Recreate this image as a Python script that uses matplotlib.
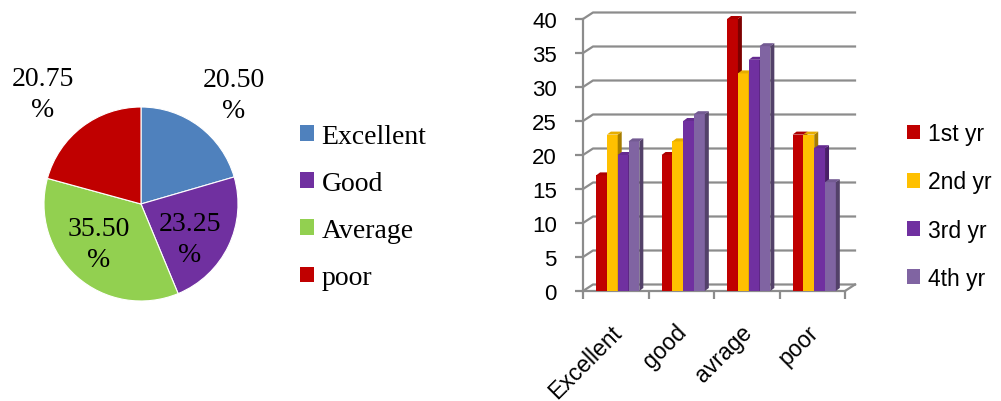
import matplotlib
matplotlib.use("Agg")
import matplotlib.pyplot as plt
import numpy as np
from matplotlib.patches import Patch
from matplotlib.colors import to_rgb
from matplotlib.transforms import ScaledTranslation

# ==== data ====
pie_labels = ['Excellent', 'Good', 'Average', 'poor']
pie_values = [20.50, 23.25, 35.50, 20.75]
pie_colors = ['#4F81BD', '#7030A0', '#92D050', '#C00000']

categories = ['Excellent', 'good', 'avrage', 'poor']
series_names = ['1st yr', '2nd yr', '3rd yr', '4th yr']
yr1 = [17, 20, 40, 23]
yr2 = [23, 22, 32, 23]
yr3 = [20, 25, 34, 21]
yr4 = [22, 26, 36, 16]
bar_colors = ['#C00000', '#FFC000', '#7030A0', '#8064A2']
yticks = [0, 5, 10, 15, 20, 25, 30, 35, 40]

W, H = 1001, 402
fig = plt.figure(figsize=(W / 100, H / 100), dpi=100)

# ==== pie ====
cx, cy, r = 141, 205, 97
ax_pie = fig.add_axes([(cx - r) / W, (H - cy - r) / H, 2 * r / W, 2 * r / H])
wedges, texts = ax_pie.pie(
    pie_values, colors=pie_colors, startangle=90, counterclock=False, radius=1.0,
    wedgeprops=dict(edgecolor='white', linewidth=0.8))
# label placement: radial distance and small angular nudge per slice
label_dist = [1.48, 0.62, 0.60, 1.52]
label_nudge = [-3.5, -10, -5.6, 4.6]
for w, v, d, nd in zip(wedges, pie_values, label_dist, label_nudge):
    ang = np.deg2rad((w.theta1 + w.theta2) / 2 + nd)
    ax_pie.text(d * np.cos(ang), d * np.sin(ang), f'{v:.2f}\n%',
                ha='center', va='center', fontsize=20,
                family='Liberation Serif', linespacing=1.3)
ax_pie.set_xlim(-1, 1)
ax_pie.set_ylim(-1, 1)
ax_pie.set_aspect('equal')

pie_handles = [Patch(facecolor=c, label=l) for c, l in zip(pie_colors, pie_labels)]
fig.legend(handles=pie_handles, loc='center left', bbox_to_anchor=(275 / W, 1 - 208 / H),
           frameon=False, prop=dict(family='Liberation Serif', size=20),
           handlelength=0.5, handleheight=0.5, handletextpad=0.28, labelspacing=0.8)

# ==== 3d-ish bar chart ====
x0, x1, ytop, ybot = 583, 845, 20, 292
ax = fig.add_axes([x0 / W, (H - ybot) / H, (x1 - x0) / W, (ybot - ytop) / H])
ax.set_xlim(-0.5, 3.5)
ax.set_ylim(0, 40)
px_x = (x1 - x0) / 4.0
px_y = (ybot - ytop) / 40.0
dx_wall = 10 / px_x
dy_wall = 6.5 / px_y
grid_c = '#8C8C8C'

for yv in yticks:
    ax.plot([-0.5, -0.5 + dx_wall, 3.5 + dx_wall], [yv, yv + dy_wall, yv + dy_wall],
            color=grid_c, lw=1.6, clip_on=False, zorder=1)
ax.plot([3.5, 3.5 + dx_wall], [0, dy_wall], color=grid_c, lw=1.6, clip_on=False, zorder=1)

series = [yr1, yr2, yr3, yr4]
bw = 0.165
depth_x = 4 / px_x
depth_y = 3 / px_y
x = np.arange(len(categories))
for k, (vals, col) in enumerate(zip(series, bar_colors)):
    rgb = np.array(to_rgb(col))
    side = rgb * 0.65
    topc = rgb * 0.9
    left = x - 0.3 + k * bw
    z = 3 + k
    ax.bar(left, vals, width=bw, align='edge', color=col, zorder=z, linewidth=0)
    for lx, v in zip(left, vals):
        ax.fill([lx + bw, lx + bw + depth_x, lx + bw + depth_x, lx + bw],
                [0, depth_y, v + depth_y, v], color=side, zorder=z, lw=0, clip_on=False)
        ax.fill([lx, lx + depth_x, lx + bw + depth_x, lx + bw],
                [v, v + depth_y, v + depth_y, v], color=topc, zorder=z, lw=0, clip_on=False)

for s in ['top', 'right']:
    ax.spines[s].set_visible(False)
for s in ['left', 'bottom']:
    ax.spines[s].set_color(grid_c)
    ax.spines[s].set_linewidth(1.6)
    ax.spines[s].set_zorder(2)
ax.set_yticks(yticks)
ax.set_yticklabels([str(v) for v in yticks], fontsize=16, family='Liberation Sans')
ax.tick_params(axis='y', length=5.8, width=1.6, color=grid_c, pad=13)
ax.set_xticks(np.arange(-0.5, 4.0, 1.0), minor=False)
ax.set_xticklabels([])
ax.tick_params(axis='x', length=5.8, width=1.6, color=grid_c)
ax.set_xticks(x, minor=True)
ax.set_xticklabels(categories, minor=True, rotation=45, ha='right',
                   rotation_mode='anchor', fontsize=16.5, family='Liberation Sans')
ax.tick_params(axis='x', which='minor', length=0, pad=21)
shift = ScaledTranslation(-6 / 100, 0, fig.dpi_scale_trans)
for lab in ax.get_xticklabels(minor=True):
    lab.set_transform(lab.get_transform() + shift)
ax.patch.set_visible(False)

bar_handles = [Patch(facecolor=c, label=l) for c, l in zip(bar_colors, series_names)]
fig.legend(handles=bar_handles, loc='center left', bbox_to_anchor=(886 / W, 1 - 207 / H),
           frameon=False, prop=dict(family='Liberation Sans', size=16.5),
           handlelength=0.6, handleheight=0.6, handletextpad=0.35, labelspacing=1.1)

fig.savefig('out.png', dpi=100)
